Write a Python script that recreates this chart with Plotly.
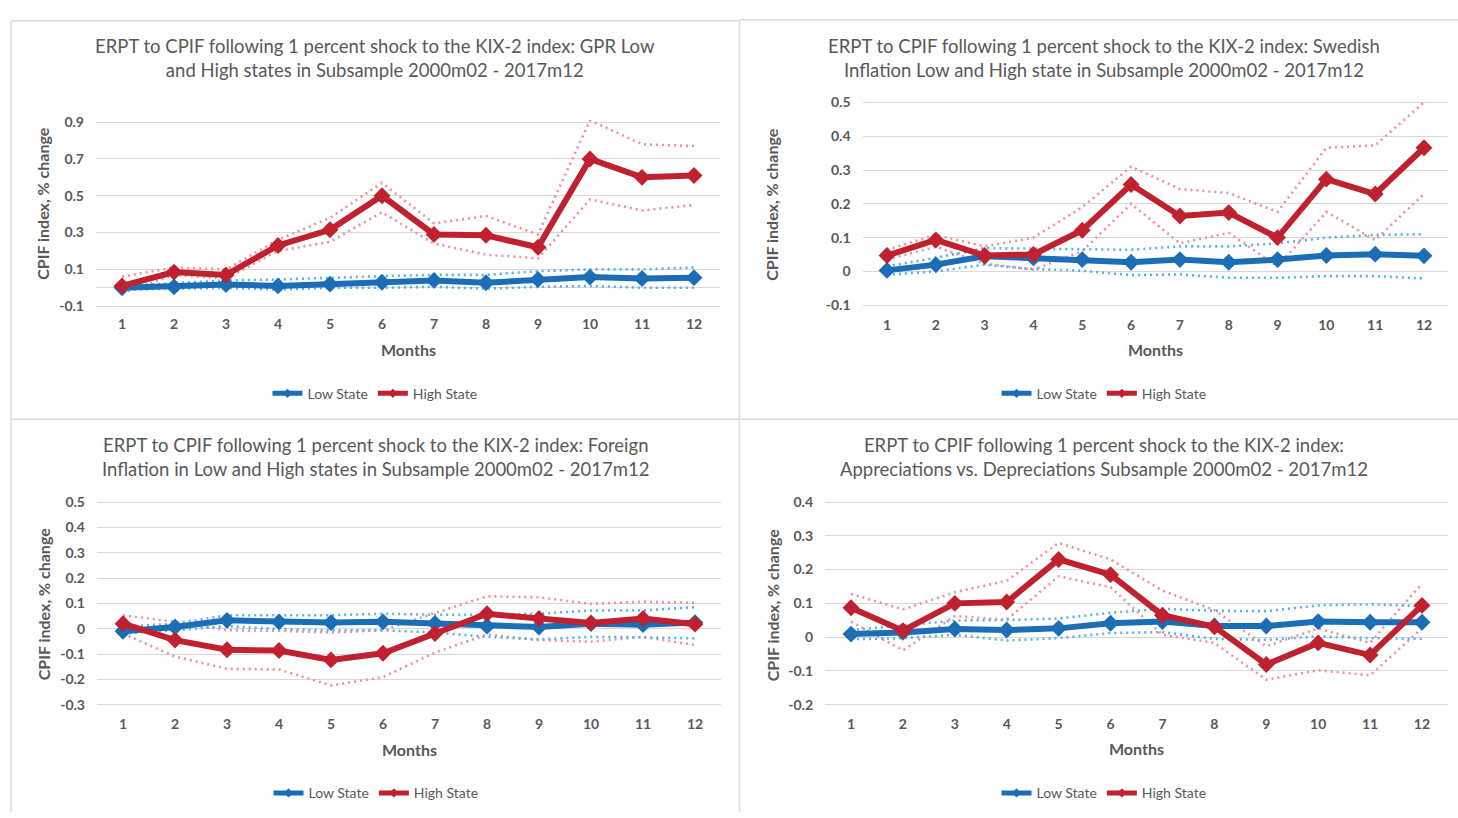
import plotly.graph_objects as go

W, H = 1458, 818

months = list(range(1, 13))
month_labels = [str(m) for m in months]

# --- GPR low / high states ---
gpr_low = [0.0, 0.005, 0.018, 0.01, 0.02, 0.03, 0.04, 0.027, 0.045, 0.058, 0.05, 0.055]
gpr_low_upper = [0.01, 0.027, 0.04, 0.045, 0.055, 0.063, 0.07, 0.07, 0.09, 0.10, 0.10, 0.11]
gpr_low_lower = [-0.01, -0.005, 0.0, -0.01, 0.0, 0.0, 0.005, -0.005, 0.005, 0.01, 0.0, 0.0]
gpr_high = [0.01, 0.085, 0.07, 0.23, 0.315, 0.50, 0.29, 0.285, 0.22, 0.70, 0.60, 0.61]
gpr_high_upper = [0.06, 0.11, 0.10, 0.26, 0.38, 0.57, 0.35, 0.39, 0.29, 0.91, 0.78, 0.77]
gpr_high_lower = [-0.03, 0.07, 0.05, 0.20, 0.25, 0.41, 0.24, 0.18, 0.16, 0.48, 0.42, 0.45]

# --- Swedish inflation low / high states ---
swe_low = [0.003, 0.02, 0.045, 0.04, 0.035, 0.027, 0.035, 0.027, 0.035, 0.047, 0.051, 0.046]
swe_low_upper = [0.015, 0.04, 0.069, 0.067, 0.067, 0.064, 0.074, 0.074, 0.083, 0.10, 0.108, 0.11]
swe_low_lower = [-0.01, 0.0, 0.02, 0.007, 0.002, -0.011, -0.009, -0.019, -0.019, -0.014, -0.014, -0.021]
swe_high = [0.047, 0.093, 0.047, 0.05, 0.122, 0.257, 0.164, 0.174, 0.10, 0.273, 0.229, 0.366]
swe_high_upper = [0.064, 0.108, 0.074, 0.10, 0.19, 0.31, 0.244, 0.232, 0.176, 0.366, 0.373, 0.50]
swe_high_lower = [0.035, 0.073, 0.023, 0.005, 0.06, 0.20, 0.083, 0.114, 0.015, 0.176, 0.093, 0.229]

# --- Foreign inflation low / high states ---
for_low = [-0.01, 0.007, 0.033, 0.027, 0.024, 0.027, 0.021, 0.01, 0.007, 0.02, 0.016, 0.024]
for_low_upper = [0.007, 0.02, 0.053, 0.053, 0.053, 0.059, 0.055, 0.055, 0.059, 0.072, 0.072, 0.085]
for_low_lower = [-0.019, -0.006, 0.01, -0.001, -0.006, -0.006, -0.015, -0.032, -0.042, -0.032, -0.034, -0.038]
for_high = [0.02, -0.045, -0.083, -0.086, -0.123, -0.097, -0.019, 0.059, 0.04, 0.023, 0.04, 0.018]
for_high_upper = [0.053, 0.027, -0.006, -0.008, -0.015, -0.006, 0.062, 0.128, 0.124, 0.098, 0.107, 0.102]
for_high_lower = [-0.019, -0.11, -0.158, -0.161, -0.224, -0.191, -0.094, -0.023, -0.045, -0.051, -0.032, -0.064]

# --- Appreciations vs depreciations ---
app_low = [0.009, 0.014, 0.024, 0.021, 0.026, 0.041, 0.046, 0.033, 0.033, 0.046, 0.044, 0.044]
app_low_upper = [0.021, 0.036, 0.049, 0.051, 0.055, 0.072, 0.084, 0.078, 0.077, 0.094, 0.097, 0.092]
app_low_lower = [-0.006, -0.003, 0.007, -0.01, -0.003, 0.012, 0.015, -0.005, -0.008, 0.002, -0.003, -0.005]
app_high = [0.087, 0.019, 0.10, 0.104, 0.23, 0.185, 0.065, 0.031, -0.081, -0.017, -0.053, 0.094]
app_high_upper = [0.128, 0.082, 0.133, 0.167, 0.279, 0.23, 0.138, 0.08, -0.027, 0.026, -0.017, 0.159]
app_high_lower = [0.046, -0.039, 0.062, 0.052, 0.18, 0.148, 0.007, -0.017, -0.126, -0.098, -0.113, 0.026]

titles = [
    "ERPT to CPIF following 1 percent shock to the KIX-2 index: GPR Low<br>and High states in Subsample 2000m02 - 2017m12",
    "ERPT to CPIF following 1 percent shock to the KIX-2 index: Swedish<br>Inflation Low and High state in Subsample 2000m02 - 2017m12",
    "ERPT to CPIF following 1 percent shock to the KIX-2 index: Foreign<br>Inflation in Low and High states in Subsample 2000m02 - 2017m12",
    "ERPT to CPIF following 1 percent shock to the KIX-2 index:<br>Appreciations vs. Depreciations Subsample 2000m02 - 2017m12",
]
y_axis_title = "CPIF index, % change"
x_axis_title = "Months"
series_names = ["Low State", "High State"]

y_ticks = [
    [-0.1, 0.1, 0.3, 0.5, 0.7, 0.9],
    [-0.1, 0, 0.1, 0.2, 0.3, 0.4, 0.5],
    [-0.3, -0.2, -0.1, 0, 0.1, 0.2, 0.3, 0.4, 0.5],
    [-0.2, -0.1, 0, 0.1, 0.2, 0.3, 0.4],
]

panels_data = [
    (gpr_low, gpr_low_upper, gpr_low_lower, gpr_high, gpr_high_upper, gpr_high_lower),
    (swe_low, swe_low_upper, swe_low_lower, swe_high, swe_high_upper, swe_high_lower),
    (for_low, for_low_upper, for_low_lower, for_high, for_high_upper, for_high_lower),
    (app_low, app_low_upper, app_low_lower, app_high, app_high_upper, app_high_lower),
]

# Panel geometry in pixels: first/last category x, top/bottom tick y,
# title centre, y-title position, tick-label row y, "Months" row y, legend row y.
geom = [
    dict(x1=122, x12=694, ytop=117, ybot=304, cx=375, ty=52, yt_x=43, yt_y=200, lab_y=323, mon_y=348, leg_y=393),
    dict(x1=887, x12=1424, ytop=97, ybot=303, cx=1104, ty=52, yt_x=772, yt_y=200, lab_y=323, mon_y=348, leg_y=393),
    dict(x1=123, x12=695, ytop=503, ybot=709, cx=376, ty=457, yt_x=43, yt_y=607, lab_y=729, mon_y=754, leg_y=799),
    dict(x1=851, x12=1422, ytop=503, ybot=709, cx=1104, ty=457, yt_x=772, yt_y=607, lab_y=729, mon_y=753, leg_y=799),
]

BLUE = "#1b6db5"
RED = "#c0212f"
BLUE_BAND = "#52b2ea"
RED_BAND = "#ef8f99"
GRID = "#d9d9d9"
TXT = "#595959"
FONT = "Lato"

fig = go.Figure()
annotations = []
shapes = []
layout_axes = {}


def px_x(p):
    return p / W


def px_y(p):
    return 1 - p / H


for i, (g, data, ticks, title) in enumerate(zip(geom, panels_data, y_ticks, titles)):
    n = i + 1
    xa = "x" if n == 1 else f"x{n}"
    ya = "y" if n == 1 else f"y{n}"
    leg = "legend" if n == 1 else f"legend{n}"
    low, low_u, low_l, high, high_u, high_l = data

    sp = (g["x12"] - g["x1"]) / 11
    xl, xr = g["x1"] - sp / 2, g["x12"] + sp / 2
    vmin, vmax = ticks[0], ticks[-1]
    ppu = (g["ybot"] - g["ytop"]) / (vmax - vmin)
    pad = 0.012 * (vmax - vmin)
    top_px = g["ytop"] - pad * ppu
    bot_px = g["ybot"] + pad * ppu

    layout_axes[f"xaxis{'' if n == 1 else n}"] = dict(
        domain=[px_x(xl), px_x(xr)], range=[0.5, 12.5], anchor=ya,
        tickvals=months, ticktext=month_labels, showgrid=False, zeroline=False,
        showline=False, ticks="", ticklabelstandoff=int(g["lab_y"] - bot_px - 10),
        tickfont=dict(family=FONT, size=14, color=TXT, weight="bold"), fixedrange=True,
    )
    layout_axes[f"yaxis{'' if n == 1 else n}"] = dict(
        domain=[px_y(bot_px), px_y(top_px)], range=[vmin - pad, vmax + pad], anchor=xa,
        tickvals=ticks, ticktext=[("%g" % t) for t in ticks],
        showgrid=True, gridcolor=GRID, gridwidth=1.3,
        zeroline=True, zerolinecolor=GRID, zerolinewidth=1.3,
        showline=False, ticks="", ticklabelstandoff=11,
        tickfont=dict(family=FONT, size=14, color=TXT, weight="bold"), fixedrange=True,
    )

    band_style = dict(mode="lines", showlegend=False, hoverinfo="skip", xaxis=xa, yaxis=ya)
    band_dash = "2px,4px"
    fig.add_trace(go.Scatter(x=months, y=high_u, line=dict(color=RED_BAND, width=2.6, dash=band_dash), **band_style))
    fig.add_trace(go.Scatter(x=months, y=high_l, line=dict(color=RED_BAND, width=2.6, dash=band_dash), **band_style))
    fig.add_trace(go.Scatter(x=months, y=low_u, line=dict(color=BLUE_BAND, width=2.6, dash=band_dash), **band_style))
    fig.add_trace(go.Scatter(x=months, y=low_l, line=dict(color=BLUE_BAND, width=2.6, dash=band_dash), **band_style))

    for vals, name, col in [(low, series_names[0], BLUE), (high, series_names[1], RED)]:
        fig.add_trace(go.Scatter(
            x=months, y=vals, name=name, mode="lines+markers", showlegend=False,
            line=dict(color=col, width=6), marker=dict(symbol="diamond", size=13, color=col),
            xaxis=xa, yaxis=ya,
        ))
    # legend keys: thick line with a small diamond
    for name, col in [(series_names[0], BLUE), (series_names[1], RED)]:
        fig.add_trace(go.Scatter(
            x=[None], y=[None], name=name, mode="lines+markers",
            line=dict(color=col, width=5), marker=dict(symbol="diamond", size=7, color=col),
            xaxis=xa, yaxis=ya, legend=leg,
        ))

    layout_axes[leg] = dict(
        orientation="h", x=px_x(g["cx"]), xanchor="center", y=px_y(g["leg_y"]), yanchor="middle",
        font=dict(family=FONT, size=14, color=TXT), bgcolor="rgba(0,0,0,0)",
        itemwidth=30, tracegroupgap=0,
    )

    annotations.append(dict(
        text=title, x=px_x(g["cx"]), y=px_y(g["ty"]), xref="paper", yref="paper",
        xanchor="center", yanchor="middle", showarrow=False, align="center",
        font=dict(family=FONT, size=18.5, color=TXT),
    ))
    annotations.append(dict(
        text=y_axis_title, x=px_x(g["yt_x"]), y=px_y(g["yt_y"]), xref="paper", yref="paper",
        xanchor="center", yanchor="middle", showarrow=False, textangle=-90,
        font=dict(family=FONT, size=16, color=TXT, weight="bold"),
    ))
    annotations.append(dict(
        text=x_axis_title, x=px_x((xl + xr) / 2), y=px_y(g["mon_y"]), xref="paper", yref="paper",
        xanchor="center", yanchor="middle", showarrow=False,
        font=dict(family=FONT, size=16, color=TXT, weight="bold"),
    ))

# Thin frames around the four chart panels
frame = dict(type="line", xref="paper", yref="paper", line=dict(color="#dcdcdc", width=1.5))
for x0, y0, x1, y1 in [
    (11, 14, 739, 14), (740, 13, 1458, 13),
    (11, 14, 11, 818), (739.5, 13, 739.5, 818),
    (11, 419, 1458, 419),
]:
    shapes.append(dict(frame, x0=px_x(x0), y0=px_y(y0), x1=px_x(x1), y1=px_y(y1)))

fig.update_layout(
    width=W, height=H, margin=dict(l=0, r=0, t=0, b=0),
    paper_bgcolor="white", plot_bgcolor="white",
    annotations=annotations, shapes=shapes,
    font=dict(family=FONT, color=TXT),
    **layout_axes,
)

fig.write_html("out.html", config={"displayModeBar": False})
